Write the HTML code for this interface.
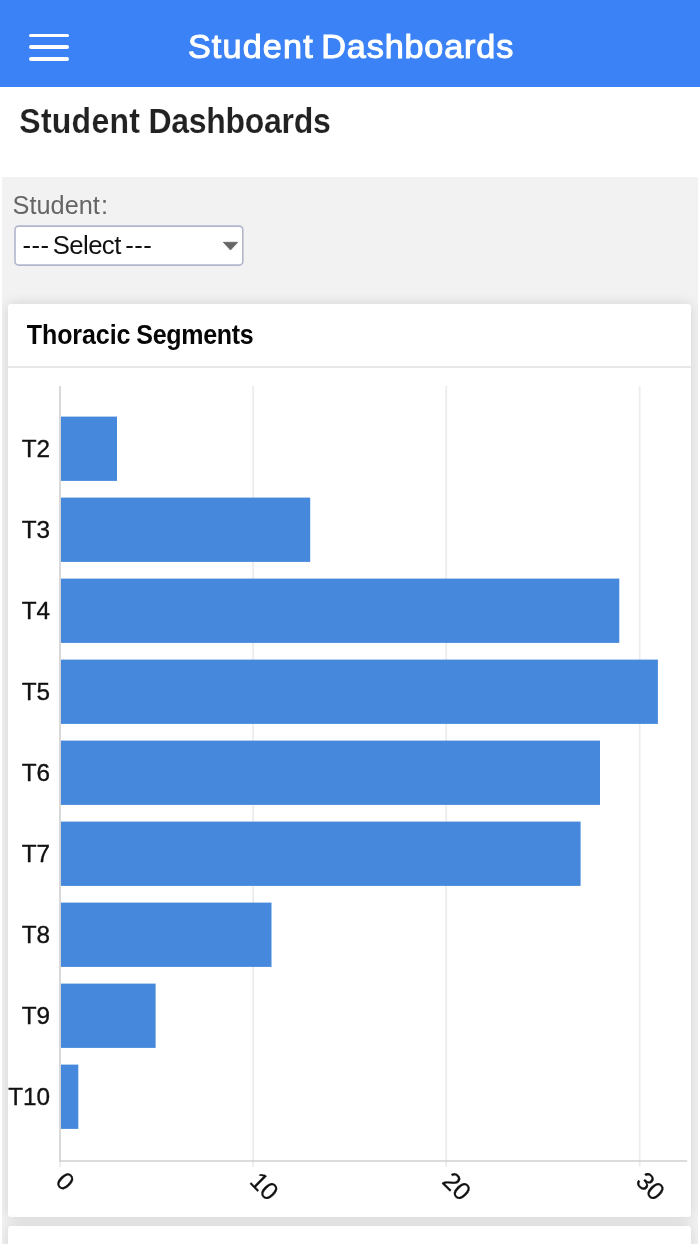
<!DOCTYPE html>
<html lang="en">
<head>
<meta charset="utf-8">
<title>Student Dashboards</title>
<style>
*{box-sizing:border-box;margin:0;padding:0}
html,body{width:700px;height:1244px;overflow:hidden;background:#fff;font-family:"Liberation Sans",sans-serif;color:#222}
body{position:relative}
.nav{position:absolute;left:0;top:0;width:700px;height:87.2px;background:#3b82f6}
.nav .burger{position:absolute;left:28.5px;top:33.5px;width:40px;height:28px}
.nav .burger i{position:absolute;left:0;width:40px;height:3.7px;border-radius:2px;background:#fff}
.nav .title{position:absolute;left:1.2px;top:27.3px;width:700px;text-align:center;color:#fff;font-weight:normal;font-size:32.5px;line-height:40px;white-space:nowrap;-webkit-text-stroke:1px #fff;transform:scaleX(1.053);letter-spacing:.75px;word-spacing:-2.6px}
h1{position:absolute;left:19.3px;top:100.8px;font-size:32px;line-height:42px;font-weight:bold;color:#222;white-space:nowrap;letter-spacing:-.19px;word-spacing:-.5px;-webkit-text-stroke:.15px #fff;transform:scaleY(1.07);transform-origin:0 31px}
.panel{position:absolute;left:2px;top:177px;width:696px;height:1067px;background:#f2f2f2;overflow:hidden}
.lbl{position:absolute;left:12.6px;top:190.3px;font-size:25.3px;line-height:30px;color:#666;white-space:nowrap}
.sel{position:absolute;left:14px;top:225px;width:230px;height:42px}
.sel span{position:absolute;left:8.4px;top:5.4px;font-size:25.7px;line-height:30px;color:#111;white-space:nowrap;letter-spacing:-.55px;word-spacing:-3.5px}
.sel i{font-style:normal;letter-spacing:.5px}
.sel svg{position:absolute;left:0;top:0}
.card{position:absolute;left:6px;top:126.5px;width:683.4px;height:913px;background:#fff;border-radius:3px;box-shadow:0 0 14px rgba(0,0,0,.13)}
.card h2{position:absolute;left:18.8px;top:15.5px;font-size:25px;line-height:32px;font-weight:bold;color:#060606;white-space:nowrap;letter-spacing:-.25px;word-spacing:-.8px;transform:scaleY(1.075);transform-origin:0 25px}
.card .hr{position:absolute;left:0;top:62.9px;width:100%;height:1.7px;background:#e7e7e7}
.card2{position:absolute;left:6px;top:1048.8px;width:683.4px;height:40px;background:#fff;border-radius:3px;box-shadow:0 0 14px rgba(0,0,0,.13)}
svg{position:absolute;left:0;top:0}
svg text{font-family:"Liberation Sans",sans-serif;fill:#111}
</style>
</head>
<body>
<div class="nav">
  <div class="burger"><i style="top:.1px"></i><i style="top:11.8px"></i><i style="top:23.5px"></i></div>
  <div class="title"><span style="letter-spacing:1.07px">Student</span> <span style="letter-spacing:.78px">Dashboards</span></div>
</div>
<h1><span style="letter-spacing:.26px">Student</span> <span style="letter-spacing:-.28px">Dashboards</span></h1>
<div class="panel"><div class="card"><h2><span style="letter-spacing:-.08px">Thoracic</span> <span style="letter-spacing:-.3px">Segments</span></h2><div class="hr"></div></div>
<div class="card2"></div></div>
<div class="lbl">Student<span style="margin-left:1.3px">:</span></div>
<div class="sel"><svg width="230" height="42" viewBox="0 0 230 42"><rect x="1" y="1.1" width="227.8" height="39" rx="3.6" fill="#fff" stroke="#b2b6cd" stroke-width="1.6"/><path d="M209.3 17.3 L223.7 17.3 L216.5 25 Z" fill="#666" stroke="#666" stroke-width="0.8" stroke-linejoin="round"/></svg><span><i>---</i> Select <i style="margin-left:1.3px">---</i></span></div>
<svg width="700" height="1244" viewBox="0 0 700 1244">
  <g stroke="#ececec" stroke-width="1.8">
    <line x1="60" y1="1161" x2="60" y2="1167"/>
    <line x1="253.2" y1="386" x2="253.2" y2="1167"/>
    <line x1="446.2" y1="386" x2="446.2" y2="1167"/>
    <line x1="639.7" y1="386" x2="639.7" y2="1167"/>
  </g>
  <g fill="#4688db">
    <rect x="60.8" y="416.6" width="56.2" height="64.3"/>
    <rect x="60.8" y="497.6" width="249.4" height="64.3"/>
    <rect x="60.8" y="578.6" width="558.5" height="64.3"/>
    <rect x="60.8" y="659.6" width="597.1" height="64.3"/>
    <rect x="60.8" y="740.6" width="539.2" height="64.3"/>
    <rect x="60.8" y="821.6" width="519.8" height="64.3"/>
    <rect x="60.8" y="902.6" width="210.7" height="64.3"/>
    <rect x="60.8" y="983.6" width="94.8" height="64.3"/>
    <rect x="60.8" y="1064.6" width="17.5" height="64.3"/>
  </g>
  <g stroke="#d0d0d0" stroke-width="1.6">
    <line x1="60" y1="386" x2="60" y2="1161.8"/>
    <line x1="59.2" y1="1161" x2="687.2" y2="1161"/>
  </g>
  <g font-size="24.3" text-anchor="end" stroke="#111" stroke-width=".35">
    <text x="50.1" y="456.6">T2</text>
    <text x="50.1" y="537.6">T3</text>
    <text x="50.1" y="618.6">T4</text>
    <text x="50.1" y="699.6">T5</text>
    <text x="50.1" y="780.6">T6</text>
    <text x="50.1" y="861.6">T7</text>
    <text x="50.1" y="942.6">T8</text>
    <text x="50.1" y="1023.6">T9</text>
    <text x="50.1" y="1104.6">T10</text>
  </g>
  <g font-size="25" stroke="#111" stroke-width=".25">
    <text transform="translate(54.2,1182.5) rotate(45)">0</text>
    <text transform="translate(248.5,1182.5) rotate(45)">10</text>
    <text transform="translate(441,1182.5) rotate(45)">20</text>
    <text transform="translate(634.6,1182.5) rotate(45)">30</text>
  </g>
</svg>
</body>
</html>
